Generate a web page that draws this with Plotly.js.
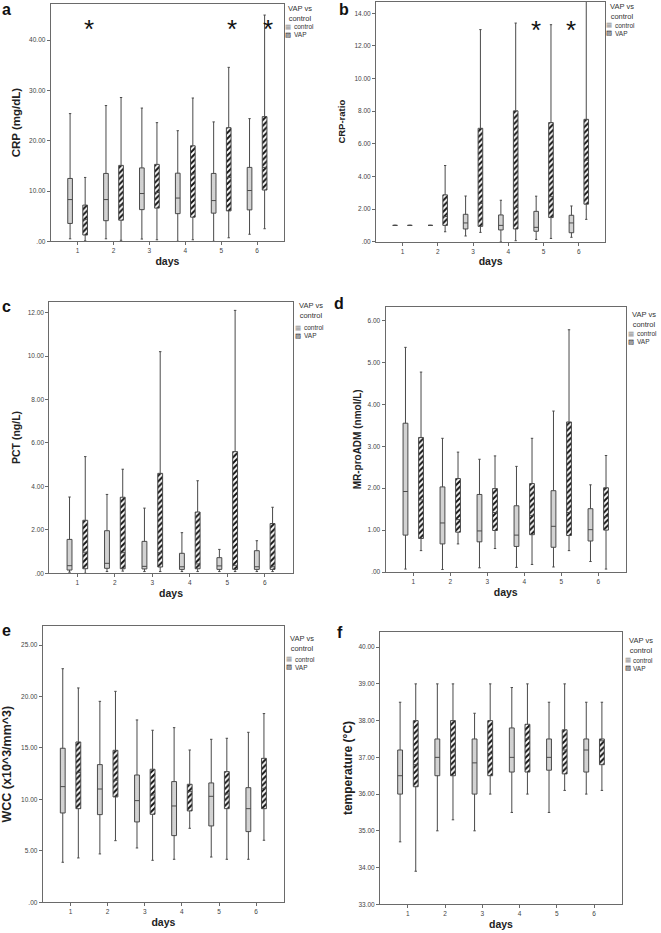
<!DOCTYPE html>
<html><head><meta charset="utf-8">
<script src="https://cdn.plot.ly/plotly-3.0.1.min.js"></script>
<style>html,body{margin:0;padding:0;background:#fff}#chart{width:661px;height:933px}</style>
</head><body><div id="chart"></div>
<script>
// ---------- DATA ----------
const days = ['1','2','3','4','5','6'];
const groupNames = ['control','VAP'];
const legendTitle = 'VAP vs<br>control';
const xTitle = 'days';
// each row per day: [lower whisker, Q1, median, Q3, upper whisker]
const crpControl = [[0.5,3.55,8.3,12.5,25.4],[0.5,4.1,8.3,13.5,27.0],[0.45,6.3,9.5,14.6,26.5],[0.0,5.5,8.6,13.55,22.0],[0.0,5.6,8.1,13.5,23.75],[1.4,6.25,10.1,14.7,24.4]];
const crpVAP     = [[0.1,1.25,4.3,7.2,12.7],[0.2,4.2,7.2,15.1,28.6],[0.3,6.6,9.7,15.3,23.6],[0.3,4.8,13.4,19.0,28.5],[0.7,6.05,12.7,22.6,34.6],[2.5,10.2,14.7,24.8,45.0]];
const ratioControl = [[1,1,1,1,1],[1,1,1,1,1],[0.35,0.78,1.15,1.68,2.8],[0.0,0.72,1.0,1.64,2.54],[0.14,0.64,0.88,1.86,2.79],[0.27,0.55,1.15,1.62,2.19]];
const ratioVAP     = [[1,1,1,1,1],[0.61,1.0,1.54,2.87,4.67],[0.57,0.94,2.35,6.95,13.0],[0.06,0.78,2.1,8.02,13.4],[0.2,1.48,2.76,7.3,13.3],[1.37,2.3,5.0,7.5,15.2]];
const pctControl = [[0.05,0.15,0.35,1.56,3.51],[0.08,0.23,0.46,1.96,3.63],[0.08,0.2,0.32,1.47,3.0],[0.08,0.18,0.3,0.92,1.87],[0.08,0.18,0.34,0.72,1.1],[0.08,0.18,0.3,1.04,1.5]];
const pctVAP     = [[0.0,0.21,0.97,2.44,5.37],[0.1,0.21,0.95,3.5,4.79],[0.08,0.29,0.95,4.6,10.2],[0.08,0.21,0.43,2.82,4.26],[0.08,0.18,0.37,5.6,12.1],[0.08,0.18,0.3,2.29,3.04]];
const admControl = [[0.07,0.88,1.92,3.55,5.36],[0.06,0.67,1.17,2.03,3.19],[0.1,0.72,0.98,1.85,2.69],[0.11,0.61,0.88,1.58,2.52],[0.12,0.59,1.09,1.94,3.84],[0.25,0.74,1.01,1.51,2.08]];
const admVAP     = [[0.51,0.8,1.72,3.21,4.77],[0.67,0.95,1.25,2.23,2.86],[0.56,0.99,1.42,1.99,2.77],[0.18,0.89,1.35,2.11,3.19],[0.51,0.87,1.42,3.58,5.78],[0.07,1.0,1.32,2.01,2.78]];
const wccControl = [[3.89,8.68,11.24,14.97,22.7],[4.7,8.52,11.01,13.38,19.53],[5.28,7.81,9.88,12.37,17.72],[4.18,6.48,9.36,11.73,16.97],[4.4,7.42,10.3,11.6,15.84],[4.18,6.87,9.1,11.14,16.52]];
const wccVAP     = [[4.31,9.1,12.6,15.58,20.83],[5.99,10.24,11.86,14.77,20.5],[4.08,8.55,10.43,12.93,16.72],[7.19,8.88,10.75,11.47,14.8],[4.18,9.1,10.53,12.7,15.94],[6.03,9.1,11.08,13.99,18.34]];
const tempControl = [[34.7,36.0,36.5,37.2,38.5],[35.0,36.5,37.0,37.5,39.0],[35.0,36.0,36.85,37.5,38.2],[35.5,36.6,37.0,37.8,38.9],[35.5,36.65,37.0,37.5,38.5],[36.0,36.6,37.2,37.5,38.5]];
const tempVAP     = [[33.9,36.2,36.8,38.0,39.0],[35.3,36.5,37.15,38.0,39.0],[36.0,36.5,37.1,38.0,39.0],[36.0,36.6,37.5,37.9,39.0],[36.1,36.55,37.2,37.75,39.0],[36.1,36.8,37.45,37.5,38.5]];
// significance markers (days)
const crpSigDays = ['1','5','6'];
const ratioSigDays = ['5','6'];
// y-axis ticks
const crpTicks = [0,10,20,30,40];       const crpTickText = ['.00','10.00','20.00','30.00','40.00'];
const ratioTicks = [0,2,4,6,8,10,12,14]; const ratioTickText = ['.00','2.00','4.00','6.00','8.00','10.00','12.00','14.00'];
const pctTicks = [0,2,4,6,8,10,12];      const pctTickText = ['.00','2.00','4.00','6.00','8.00','10.00','12.00'];
const admTicks = [0,1,2,3,4,5,6];        const admTickText = ['.00','1.00','2.00','3.00','4.00','5.00','6.00'];
const wccTicks = [0,5,10,15,20,25];      const wccTickText = ['.00','5.00','10.00','15.00','20.00','25.00'];
const tempTicks = [33,34,35,36,37,38,39,40]; const tempTickText = ['33.00','34.00','35.00','36.00','37.00','38.00','39.00','40.00'];

// ---------- LAYOUT CONFIG ----------
const W = 661, H = 933;
const FONT = 'Liberation Sans, Arial, sans-serif';
const panels = [
  {letter:'a', ctrl:crpControl, vap:crpVAP, title:'CRP (mg/dL)', tv:crpTicks, tt:crpTickText, yr:[0,47.2],
   frame:[50.7,284,4,241.3], tsize:11.5, standoff:6, leg:[300,288,13,30.5], letterPos:[6.7,9], sig:crpSigDays, sigY:0.916, sigShift:11},
  {letter:'b', ctrl:ratioControl, vap:ratioVAP, title:'CRP-ratio', tv:ratioTicks, tt:ratioTickText, yr:[0,14.71],
   frame:[376,605.3,1.7,241.7], tsize:9.5, standoff:7, leg:[621.5,609,12,29.5], letterPos:[343.5,10], sig:ratioSigDays, sigY:0.903, sigShift:-8},
  {letter:'c', ctrl:pctControl, vap:pctVAP, title:'PCT (ng/L)', tv:pctTicks, tt:pctTickText, yr:[0,12.5],
   frame:[49.3,292.8,301.7,573.3], tsize:10.5, standoff:5, leg:[311,298,311,331.7], letterPos:[6,306], sig:[], sigY:0, sigShift:0},
  {letter:'d', ctrl:admControl, vap:admVAP, title:'MR-proADM (nmol/L)', tv:admTicks, tt:admTickText, yr:[0,6.33],
   frame:[385.5,626,306.7,572], tsize:10, standoff:4, leg:[644,631,319,337.7], letterPos:[338.5,304], sig:[], sigY:0, sigShift:0},
  {letter:'e', ctrl:wccControl, vap:wccVAP, title:'WCC (x10^3/mm^3)', tv:wccTicks, tt:wccTickText, yr:[0,26.85],
   frame:[42.7,284,626,902.3], tsize:12.5, standoff:11, leg:[301.5,289,643,663], letterPos:[6,630], sig:[], sigY:0, sigShift:0},
  {letter:'f', ctrl:tempControl, vap:tempVAP, title:'temperature (°C)', tv:tempTicks, tt:tempTickText, yr:[33,40.42],
   frame:[380,622,631.7,904.3], tsize:12, standoff:3, leg:[641,627.5,645.5,664.3], letterPos:[340,632], sig:[], sigY:0, sigShift:0}
];

const col = (arr, k) => arr.map(r => r[k]);
const traces = [];
const layout = {
  width: W, height: H, margin:{l:0,r:0,t:0,b:0},
  paper_bgcolor:'#fff', plot_bgcolor:'#fff', showlegend:false,
  barmode:'group', bargap:0.16, bargroupgap:0.69,
  boxmode:'group', boxgap:0.16, boxgroupgap:0.69,
  font:{family:FONT, color:'#333'},
  annotations:[]
};

const patterns = [
  {shape:'.', fgcolor:'#a8a8a8', bgcolor:'#ededed', size:2, solidity:0.4},
  {shape:'/', fgcolor:'#111', bgcolor:'#fff', size:4, solidity:0.5}
];

panels.forEach((p, i) => {
  const n = i === 0 ? '' : String(i+1);
  const xa = 'x'+n, ya = 'y'+n;
  const [L,R,T,B] = p.frame;
  [p.ctrl, p.vap].forEach((d, g) => {
    const q1 = col(d,1), q3 = col(d,3);
    traces.push({type:'bar', x:days, base:q1, y:q3.map((v,k)=>v-q1[k]), xaxis:xa, yaxis:ya,
      alignmentgroup:'bars', offsetgroup:groupNames[g],
      name:groupNames[g], marker:{color:patterns[g].bgcolor, line:{width:0}, pattern:patterns[g]}, hoverinfo:'skip'});
  });
  [p.ctrl, p.vap].forEach((d, g) => {
    traces.push({type:'box', x:days, lowerfence:col(d,0), q1:col(d,1), median:col(d,2), q3:col(d,3), upperfence:col(d,4),
      xaxis:xa, yaxis:ya, name:groupNames[g], alignmentgroup:'boxes', offsetgroup:groupNames[g],
      boxpoints:false, fillcolor:'rgba(0,0,0,0)',
      line:{color:'#4a4a4a', width:1}, whiskerwidth:0.5});
  });
  layout['xaxis'+n] = {domain:[L/W, R/W], anchor:ya, type:'category', range:[-0.75,5.75],
    showline:true, mirror:true, linecolor:'#6a6a6a', linewidth:1, ticks:'outside', ticklen:3, tickcolor:'#6a6a6a',
    showgrid:false, zeroline:false, tickfont:{size:6.5, color:'#444'},
    title:{text:xTitle, standoff:4, font:{size:10.5, weight:'bold', color:'#222'}}};
  layout['yaxis'+n] = {domain:[1-B/H, 1-T/H], anchor:xa, range:p.yr,
    tickvals:p.tv, ticktext:p.tt, showline:true, mirror:true, linecolor:'#6a6a6a', linewidth:1,
    ticks:'outside', ticklen:3, tickcolor:'#6a6a6a', showgrid:false, zeroline:false,
    tickfont:{size:6.5, color:'#444'},
    title:{text:p.title, standoff:p.standoff, font:{size:p.tsize, weight:'bold', color:'#222'}}};
  // panel letter
  layout.annotations.push({xref:'paper', yref:'paper', x:p.letterPos[0]/W, y:1-p.letterPos[1]/H,
    text:p.letter, showarrow:false, xanchor:'center', yanchor:'middle', font:{size:16, weight:'bold', color:'#111'}});
  // legend (title + swatches + labels)
  const [cx, sx, ty, ey] = p.leg;
  layout.annotations.push({xref:'paper', yref:'paper', x:cx/W, y:1-ty/H, text:legendTitle, showarrow:false,
    xanchor:'center', yanchor:'middle', align:'center', borderpad:0, font:{size:7.5, color:'#333'}});
  layout.annotations.push({xref:'paper', yref:'paper', x:sx/W, y:1-ey/H,
    text:'<span style="color:#999">▦</span><br><span style="color:#111">▨</span>', showarrow:false,
    xanchor:'center', yanchor:'middle', borderpad:0, font:{size:6.5, color:'#555', family:'DejaVu Sans'}});
  layout.annotations.push({xref:'paper', yref:'paper', x:(sx+4.5)/W, y:1-ey/H, text:groupNames.join('<br>'), showarrow:false,
    xanchor:'left', yanchor:'middle', align:'left', borderpad:0, font:{size:6.5, color:'#333'}});
  // significance asterisks
  p.sig.forEach(dy => {
    layout.annotations.push({xref:xa, yref:ya+' domain', x:days.indexOf(dy), y:p.sigY, text:'*', showarrow:false,
      xanchor:'center', yanchor:'middle', xshift:p.sigShift, yshift:-5, font:{size:26, color:'#111'}});
  });
});

Plotly.newPlot('chart', traces, layout, {staticPlot:true});
</script>
</body></html>
